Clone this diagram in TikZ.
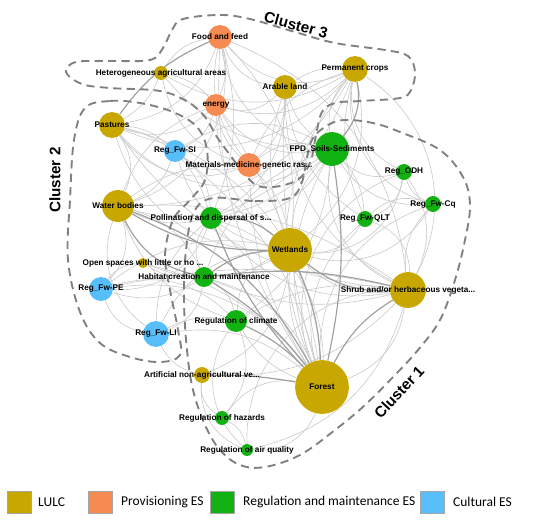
\documentclass[tikz,border=0pt]{standalone}
\usepackage{fontspec}
\setmainfont{Liberation Sans}
\newfontfamily\legendfont{Carlito}
\usetikzlibrary{backgrounds}

\definecolor{lulccol}{RGB}{200,168,0}
\definecolor{provcol}{RGB}{245,138,82}
\definecolor{regcol}{RGB}{18,178,18}
\definecolor{cultcol}{RGB}{88,190,250}
\definecolor{edgecol}{RGB}{200,200,200}
\definecolor{edgedark}{RGB}{160,160,160}
\definecolor{clustcol}{RGB}{128,128,128}

\tikzset{
  nd/.style={circle, inner sep=0pt, minimum size=#1*1.7pt},
  lulc/.style={nd=#1, fill=lulccol},
  prov/.style={nd=#1, fill=provcol},
  reg/.style={nd=#1, fill=regcol},
  cult/.style={nd=#1, fill=cultcol},
  lbl/.style={font=\fontsize{7}{8}\selectfont\bfseries, inner sep=0pt},
  edge/.style={draw=edgecol, line width=0.5pt},
  edgeheavy/.style={draw=edgedark, line width=1pt},
  cluster/.style={draw=clustcol, line width=1.6pt, dash pattern=on 7pt off 4.5pt},
  clustername/.style={font=\fontsize{13}{15}\selectfont\bfseries},
  legbox/.style={draw=gray!70, line width=0.6pt, minimum width=20.4pt, minimum height=18.7pt, inner sep=0pt},
  legtext/.style={font=\legendfont\fontsize{11.5}{13}\selectfont, anchor=west, inner sep=0pt}
}

\begin{document}
\begin{tikzpicture}[x=0.03cm, y=-0.03cm]
\useasboundingbox (0,0) rectangle (550,521);

% cluster 3
\node[lulc=13, label={[lbl]center:Permanent crops}] (perm) at (355,69) {};
\node[prov=12, label={[lbl]center:Food and feed}] (food) at (220,37) {};
\node[lulc=7, label={[lbl]center:Heterogeneous agricultural areas}] (hetero) at (161,73) {};
\node[lulc=12, label={[lbl]center:Arable land}] (arable) at (285,87) {};
\node[prov=11, label={[lbl]center:energy}] (energy) at (216,105) {};
\node[prov=12, label={[lbl]center:Materials-medicine-genetic ras...}] (materials) at (249,165) {};

% cluster 2
\node[lulc=13, label={[lbl]center:Pastures}] (pastures) at (112,125) {};
\node[cult=11, label={[lbl]center:Reg\_Fw-SI}] (fwsi) at (175,151) {};
\node[lulc=16, label={[lbl]center:Water bodies}] (water) at (118,206) {};
\node[lulc=5, label={[lbl]center:Open spaces with little or no ...}] (open) at (143,263) {};
\node[cult=12, label={[lbl]center:Reg\_Fw-PE}] (fwpe) at (101,289) {};
\node[cult=13, label={[lbl]center:Reg\_Fw-LI}] (fwli) at (156,334) {};

% cluster 1
\node[reg=17, label={[lbl]center:FPD\_Soils-Sediments}] (fpd) at (332,149) {};
\node[reg=8, label={[lbl]center:Reg\_ODH}] (odh) at (404,172) {};
\node[reg=8, label={[lbl]center:Reg\_Fw-Cq}] (fwcq) at (433,204) {};
\node[reg=11, label={[lbl]center:Pollination and dispersal of s...}] (pollin) at (211,218) {};
\node[reg=8, label={[lbl]center:Reg\_Fw-QLT}] (fwqlt) at (365,219) {};
\node[lulc=22, label={[lbl]center:Wetlands}] (wetlands) at (290,250) {};
\node[lulc=18, label={[lbl]center:Shrub and/or herbaceous vegeta...}] (shrub) at (408,290) {};
\node[reg=10, label={[lbl]center:Habitat creation and maintenance}] (habitat) at (204,277) {};
\node[reg=11, label={[lbl]center:Regulation of climate}] (climate) at (236,321) {};
\node[lulc=8, label={[lbl]center:Artificial non-agricultural ve...}] (artif) at (202,375) {};
\node[lulc=27, label={[lbl]center:Forest}] (forest) at (322,387) {};
\node[reg=7, label={[lbl]center:Regulation of hazards}] (hazards) at (222,418) {};
\node[reg=6, label={[lbl]center:Regulation of air quality}] (airq) at (247,450) {};

\begin{scope}[on background layer]
% links
\foreach \a/\b/\c [evaluate=\c as \cc using 3*\c] in {forest/wetlands/5, forest/shrub/-10, forest/fpd/8, forest/pollin/-12,
  forest/habitat/-8, forest/climate/6, forest/hazards/-10, forest/airq/12, forest/odh/15,
  forest/fwcq/12, forest/fwqlt/10, forest/fwsi/-6, forest/fwpe/-10, forest/fwli/-8,
  forest/materials/5, forest/energy/-4, forest/food/6, forest/pastures/-12, forest/perm/10,
  forest/arable/3, forest/open/-6,
  wetlands/fpd/6, wetlands/climate/-10, wetlands/shrub/-8, wetlands/fwsi/10,
  wetlands/fwpe/-8, wetlands/fwli/-10, wetlands/pastures/12, wetlands/food/-8,
  wetlands/energy/8, wetlands/materials/-6, wetlands/fwqlt/-10, wetlands/odh/-14,
  wetlands/fwcq/-12, wetlands/artif/10, wetlands/perm/-10, wetlands/arable/6, wetlands/open/8,
  shrub/fpd/12, shrub/pollin/10, shrub/habitat/6, shrub/climate/-6, shrub/odh/-10,
  shrub/fwcq/8, shrub/fwqlt/-12, shrub/perm/-14, shrub/arable/10, shrub/food/-10,
  shrub/pastures/8, shrub/water/-6, shrub/artif/8, shrub/fwpe/-4, shrub/airq/-15,
  perm/fpd/-8, perm/odh/-12, perm/fwcq/-14, perm/food/12, perm/energy/10, perm/materials/-8,
  perm/pollin/8, perm/hetero/10, perm/arable/-6, perm/fwqlt/-6, perm/pastures/12, perm/water/10,
  food/hetero/-8, food/energy/6, food/arable/-10, food/materials/-8, food/pastures/10,
  food/fpd/-12, food/water/14, food/pollin/6,
  water/fwsi/-8, water/fwpe/10, water/fwli/-12, water/pollin/-6, water/habitat/8,
  water/fpd/-10, water/energy/8, water/materials/6, water/climate/-8, water/pastures/-10,
  pastures/fwsi/6, pastures/energy/-10, pastures/materials/-12, pastures/fpd/-14,
  pastures/pollin/10, pastures/hetero/-6,
  hetero/energy/6, hetero/materials/-10, hetero/fpd/-8,
  arable/energy/10, arable/materials/8, arable/fpd/-6, arable/pollin/10, arable/fwqlt/-8,
  energy/materials/-6, energy/fpd/-10, energy/fwsi/8,
  fpd/pollin/10, fpd/habitat/-8, fpd/climate/8, fpd/odh/-10, fpd/fwqlt/6, fpd/fwsi/-10,
  fpd/fwcq/-10, fpd/materials/-8,
  fwpe/fwli/-10, fwpe/open/8, fwpe/habitat/-8, fwpe/climate/10, fwpe/pollin/-12,
  fwli/artif/-8, fwli/climate/6, fwli/habitat/-10, fwli/pollin/8,
  open/habitat/-6, artif/hazards/-10, artif/airq/-12, hazards/airq/8, hazards/climate/-10,
  odh/fwcq/-8, fwqlt/fwcq/10, fwqlt/odh/-10, fwsi/pollin/8, fwsi/materials/-8,
  pollin/habitat/-10, habitat/climate/8, climate/airq/-14, airq/shrub/-10}
  \draw[edge] (\a) to[bend left=\cc] (\b);
\foreach \a/\b/\c [evaluate=\c as \cc using 2.5*\c] in {forest/artif/-2, forest/wetlands/-4, forest/shrub/6, forest/water/-8,
  forest/habitat/-4, forest/fpd/-4, wetlands/water/6, wetlands/pollin/-8, wetlands/habitat/-6,
  shrub/wetlands/8, shrub/habitat/-4, forest/climate/-4, perm/fpd/10, forest/pollin/4,
  food/pastures/-6, water/habitat/-10}
  \draw[edgeheavy] (\a) to[bend left=\cc] (\b);

% clusters
\draw[cluster] plot[smooth cycle, tension=0.6] coordinates {(183,19) (220,15) (250,19)
  (295,32) (335,43) (385,50) (408,56) (415,72) (411,90) (400,98) (360,101) (335,103)
  (322,112) (316,135) (311,160) (300,178) (280,186) (258,186) (243,172) (230,155)
  (217,137) (205,117) (188,102) (160,91) (110,88) (82,84) (66,72) (76,62) (110,61)
  (150,60) (163,48) (172,30)};
\draw[cluster] plot[smooth cycle, tension=0.6] coordinates {(85,108) (110,101) (140,103)
  (173,112) (197,127) (207,150) (205,180) (190,200) (173,220) (165,255) (170,290)
  (178,330) (180,355) (160,362) (130,357) (100,343) (80,312) (68,260) (70,200) (74,140)};
\draw[cluster] plot[smooth cycle, tension=0.6] coordinates {(213,198) (255,201) (290,198)
  (302,182) (307,157) (313,138) (328,125) (345,120) (373,123) (400,132) (440,150)
  (463,177) (470,205) (465,240) (455,280) (440,320) (418,350) (395,375) (365,405)
  (335,430) (300,455) (265,467) (240,465) (220,450) (205,425) (193,390) (187,350)
  (184,300) (186,250) (194,212)};
\end{scope}

\node[clustername, rotate=-15] (c3) at (296,25) {Cluster 3};
\node[clustername, rotate=90] (c2) at (55,180) {Cluster 2};
\node[clustername, rotate=47] (c1) at (399,392) {Cluster 1};

% legend
\node[legbox, fill=lulccol] (klulc) at (19,502) {};
\node[legtext] at (38,502) {LULC};
\node[legbox, fill=provcol] (kprov) at (100,502) {};
\node[legtext] at (121,502) {Provisioning ES};
\node[legbox, fill=regcol] (kreg) at (222,502) {};
\node[legtext] at (243,502) {Regulation and maintenance ES};
\node[legbox, fill=cultcol] (kcult) at (432,502) {};
\node[legtext] at (453,502) {Cultural ES};
\end{tikzpicture}
\end{document}
